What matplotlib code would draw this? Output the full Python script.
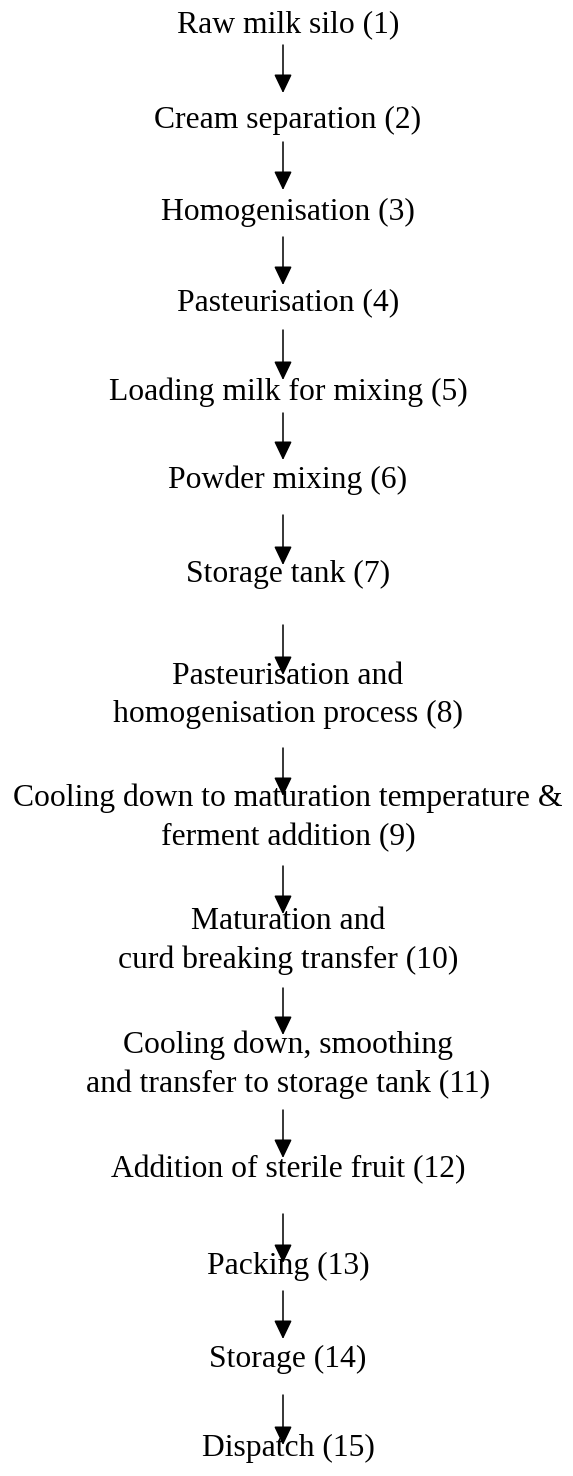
import matplotlib
matplotlib.use("Agg")
import matplotlib.pyplot as plt
from matplotlib.patches import FancyArrowPatch

# Process steps (labels) of the flowchart
steps = [
    "Raw milk silo (1)",
    "Cream separation (2)",
    "Homogenisation (3)",
    "Pasteurisation (4)",
    "Loading milk for mixing (5)",
    "Powder mixing (6)",
    "Storage tank (7)",
    "Pasteurisation and\nhomogenisation process (8)",
    "Cooling down to maturation temperature &\nferment addition (9)",
    "Maturation and\ncurd breaking transfer (10)",
    "Cooling down, smoothing\nand transfer to storage tank (11)",
    "Addition of sterile fruit (12)",
    "Packing (13)",
    "Storage (14)",
    "Dispatch (15)",
]

# Layout (pixel coordinates, y downward): baseline of the last line of each label
label_baseline = [32, 128, 220, 310, 400, 488, 582, 722, 845, 968, 1092, 1177, 1274, 1367, 1456]
# arrows between consecutive steps: (start y, tip y)
arrow_start = [45, 142, 237, 330, 413, 515, 625, 748, 866, 988, 1110, 1214, 1291, 1395]
arrow_tip = [93, 190, 285, 380, 460, 565, 675, 796, 914, 1035, 1158, 1263, 1339, 1445]

W, H = 573, 1476
X_CENTER = 283
X_TEXT = 288

fig = plt.figure(figsize=(W / 100, H / 100), dpi=100)
ax = fig.add_axes([0, 0, 1, 1])
ax.set_xlim(0, W)
ax.set_ylim(H, 0)
ax.axis("off")

for label, yb in zip(steps, label_baseline):
    ax.text(X_TEXT, yb, label, ha="center", va="baseline", multialignment="center",
            fontsize=22.8, family="Liberation Serif", linespacing=1.42, color="black")

for y0, y1 in zip(arrow_start, arrow_tip):
    arr = FancyArrowPatch((X_CENTER, y0), (X_CENTER, y1),
                          arrowstyle="-|>,head_length=1.15,head_width=0.55",
                          mutation_scale=10, lw=1.1, color="black",
                          shrinkA=0, shrinkB=0, zorder=3)
    ax.add_patch(arr)

fig.savefig("out.png", dpi=100, facecolor="white")
